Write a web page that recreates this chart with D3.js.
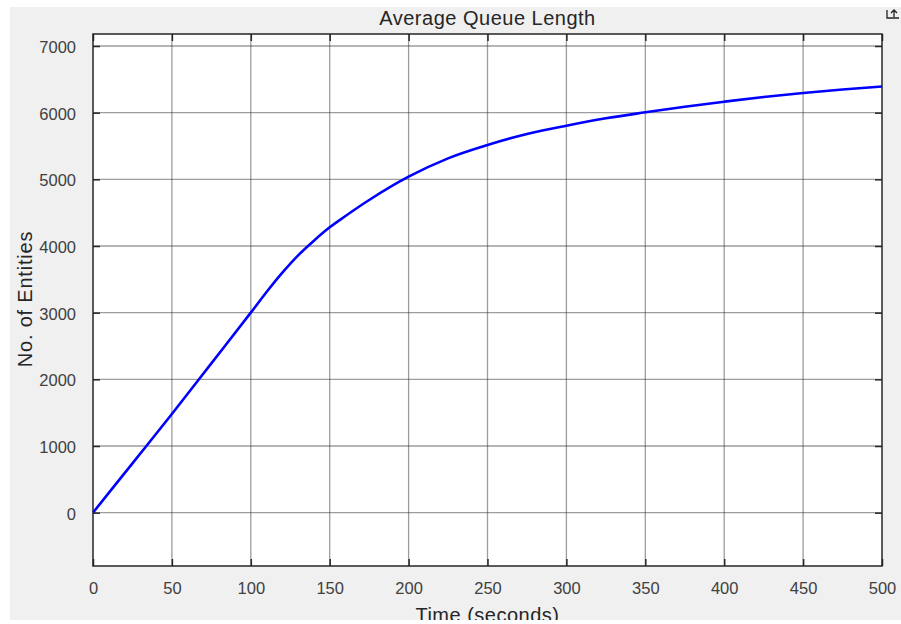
<!DOCTYPE html>
<html>
<head>
<meta charset="utf-8">
<script src="https://cdn.jsdelivr.net/npm/d3@7"></script>
<style>
  body { margin: 0; background: #fff; }
  svg { display: block; font-family: "Liberation Sans", Arial, sans-serif; }
</style>
</head>
<body>
<div id="chart"></div>
<script>
// data
const times  = [0, 25, 50, 75, 100, 110, 120, 130, 140, 150, 160, 175, 200, 225, 250, 275, 300, 325, 350, 375, 400, 425, 450, 475, 500];
const queue  = [0, 740, 1480, 2240, 3000, 3310, 3600, 3860, 4080, 4280, 4450, 4690, 5040, 5315, 5515, 5680, 5805, 5915, 6005, 6090, 6165, 6235, 6295, 6347, 6392];
const xTicks = [0, 50, 100, 150, 200, 250, 300, 350, 400, 450, 500];
const yTicks = [0, 1000, 2000, 3000, 4000, 5000, 6000, 7000];

const W = 901, H = 624;
const box = {left: 93, right: 882, top: 34, bottom: 566};

const svg = d3.select("#chart").append("svg")
  .attr("width", W)
  .attr("height", H);

// figure background
svg.append("rect")
  .attr("x", 10).attr("y", 7)
  .attr("width", W - 10).attr("height", 613)
  .attr("fill", "#f0f0f0");

const x = d3.scaleLinear().domain([0, 500]).range([box.left, box.right]);
const y = d3.scaleLinear().domain([-800, 7180]).range([box.bottom, box.top]);

// axes area
svg.append("rect")
  .attr("x", box.left).attr("y", box.top)
  .attr("width", box.right - box.left).attr("height", box.bottom - box.top)
  .attr("fill", "#fff");

// grid
const grid = svg.append("g").attr("stroke", "#262626").attr("stroke-opacity", 0.45).attr("stroke-width", 1.3);
grid.selectAll(".gx").data(xTicks.slice(1, -1)).join("line")
  .attr("x1", d => x(d)).attr("x2", d => x(d))
  .attr("y1", box.top).attr("y2", box.bottom);
grid.selectAll(".gy").data(yTicks).join("line")
  .attr("y1", d => y(d)).attr("y2", d => y(d))
  .attr("x1", box.left).attr("x2", box.right);

// curve
const line = d3.line()
  .x((d, i) => x(times[i]))
  .y(d => y(d))
  .curve(d3.curveMonotoneX);
svg.append("path")
  .datum(queue)
  .attr("d", line)
  .attr("fill", "none")
  .attr("stroke", "#0000ff")
  .attr("stroke-width", 2.6);

// axes with inward ticks on all sides
const tickLen = 7;
const axStyle = g => {
  g.select(".domain").remove();
  g.selectAll(".tick line").attr("stroke", "#262626").attr("stroke-width", 1.5);
  g.selectAll(".tick text").attr("fill", "#404040").style("font-size", "16.5px");
};
svg.append("g")
  .attr("transform", `translate(0,${box.bottom})`)
  .call(d3.axisBottom(x).tickValues(xTicks).tickSizeInner(-tickLen).tickPadding(18))
  .call(axStyle)
  .call(g => g.selectAll(".tick text").attr("dy", "0.6em"));
svg.append("g")
  .attr("transform", `translate(0,${box.top})`)
  .call(d3.axisTop(x).tickValues(xTicks).tickSizeInner(-tickLen).tickFormat(""))
  .call(axStyle);
svg.append("g")
  .attr("transform", `translate(${box.left},0)`)
  .call(d3.axisLeft(y).tickValues(yTicks).tickSizeInner(-tickLen).tickPadding(17).tickFormat(d3.format("d")))
  .call(axStyle)
  .call(g => g.selectAll(".tick text").attr("dy", "0.4em"));
svg.append("g")
  .attr("transform", `translate(${box.right},0)`)
  .call(d3.axisRight(y).tickValues(yTicks).tickSizeInner(-tickLen).tickFormat(""))
  .call(axStyle);

// box
svg.append("rect")
  .attr("x", box.left).attr("y", box.top)
  .attr("width", box.right - box.left).attr("height", box.bottom - box.top)
  .attr("fill", "none")
  .attr("stroke", "#262626")
  .attr("stroke-width", 1.5);

// title and labels
svg.append("text")
  .attr("x", (box.left + box.right) / 2).attr("y", 25)
  .attr("text-anchor", "middle")
  .attr("fill", "#262626")
  .style("font-size", "20px")
  .style("letter-spacing", "0.5px")
  .text("Average Queue Length");

svg.append("text")
  .attr("transform", "translate(32,299) rotate(-90)")
  .attr("text-anchor", "middle")
  .attr("fill", "#262626")
  .style("font-size", "20px")
  .style("letter-spacing", "0.8px")
  .text("No. of Entities");

// the figure edge cuts this label in the reference
svg.append("text")
  .attr("x", (box.left + box.right) / 2).attr("y", 622)
  .attr("text-anchor", "middle")
  .attr("fill", "#262626")
  .style("font-size", "20px")
  .style("letter-spacing", "0.5px")
  .text("Time (seconds)");

svg.append("rect")
  .attr("x", 0).attr("y", 620)
  .attr("width", W).attr("height", H - 620)
  .attr("fill", "#fff");

// small export icon top right
const icon = svg.append("g")
  .attr("transform", "translate(886,7)")
  .attr("fill", "none")
  .attr("stroke", "#222")
  .attr("stroke-width", 1.3);
icon.append("path").attr("d", "M1,3 V11 H13");
icon.append("path").attr("d", "M8,10 V4 M5,6 L8,3 L11,6");
</script>
</body>
</html>
